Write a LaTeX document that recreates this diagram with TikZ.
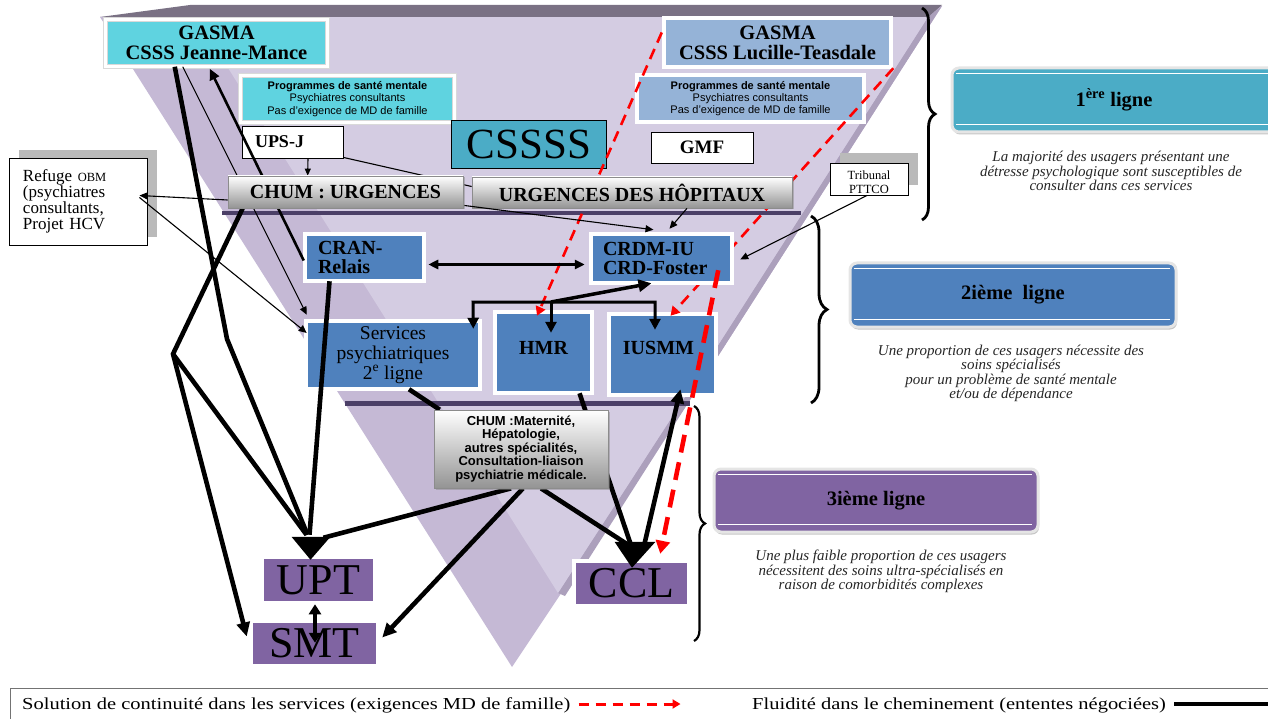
\documentclass[tikz,border=0pt]{standalone}
\usepackage{fontspec}
\setmainfont{Liberation Serif}
\newfontfamily\arial{Liberation Sans}
\newfontfamily\legfont[FakeStretch=1.22]{Liberation Serif}
\usetikzlibrary{arrows.meta,calc,shadows,decorations.pathreplacing}
\definecolor{cyanbox}{HTML}{5FD3E0}
\definecolor{ltblue}{HTML}{95B3D7}
\definecolor{tealbox}{HTML}{4BACC6}
\definecolor{midblue}{HTML}{4F81BD}
\definecolor{purp}{HTML}{8064A2}
\definecolor{lavL}{HTML}{D4CCE2}
\definecolor{lavM}{HTML}{C5B9D5}
\definecolor{lavB}{HTML}{ACA0BC}
\definecolor{topbar}{HTML}{7A7184}
\definecolor{shelfc}{HTML}{4B3F67}
\definecolor{brsh}{HTML}{C9A68C}
\pgfdeclarelayer{boxtop}
\pgfdeclarelayer{front}
\pgfsetlayers{main,boxtop,front}
\begin{document}
\begin{tikzpicture}[x=1pt,y=-1pt,
  fb/.style={fill=#1, draw=black!15, double=white, double distance=3.4pt, line width=0.5pt, inner sep=1pt},
  shg/.style={drop shadow={shadow xshift=1.5pt, shadow yshift=-1.5pt, fill=black!45, opacity=0.5}},
  shb/.style={drop shadow={shadow xshift=2pt, shadow yshift=-2pt, fill=brsh, opacity=0.9}},
  wb/.style={fill=white, draw=black, line width=0.9pt},
  gb/.style={top color=white, bottom color=black!42, draw=black!45, line width=0.7pt, shg},
  lb/.style={fill=#1, draw=black!10, line width=3pt, rounded corners=7pt, font=\bfseries\fontsize{20.5}{20}\selectfont, drop shadow={shadow xshift=1pt, shadow yshift=-2.5pt, fill=black!45, opacity=0.5}},
  bt/.style={font=\bfseries\fontsize{20.5}{20}\selectfont, align=center},
  prog/.style={font=\fontsize{11}{12.3}\selectfont\arial, align=center},
  bigtxt/.style={font=\fontsize{44}{44}\selectfont, inner sep=0pt},
  desc/.style={font=\itshape\fontsize{15}{14.5}\selectfont, align=center, text=black!85},
  ln1/.style={line width=1.1pt},
  ln2/.style={line width=2.6pt},
  ln3/.style={line width=4.6pt},
  ta/.style={-{Triangle[length=8pt,width=7pt]}},
  tb/.style={-{Triangle[length=11pt,width=10pt]}},
  tc/.style={-{Triangle[length=14pt,width=13pt]}},
  rdt/.style={draw=red, line width=2.6pt, dash pattern=on 11pt off 7pt, -{Triangle[length=9pt,width=10pt]}},
  rdT/.style={draw=red, line width=4.6pt, dash pattern=on 18pt off 10pt, -{Triangle[length=13pt,width=14pt]}}
]
\useasboundingbox (0,0) rectangle (1268,719);

% background funnel
\fill[lavM] (100,17) -- (942,6) -- (690,400) -- (512,667) -- cycle;
\fill[lavB] (928,17) -- (942,6) -- (690,400) -- (565,596) -- (558,593) -- (683,400) -- cycle;
\fill[lavL] (196,17) -- (928,17) -- (683,400) -- (558,593) -- cycle;
\fill[topbar] (100,17) -- (190,5) -- (942,5) -- (928,17) -- cycle;
\draw[shelfc, line width=4pt] (222,213) -- (801,213);
\draw[shelfc, line width=5pt] (345,403) -- (690,403);

% boxes drawn above the connectors that pass behind them
\begin{pgfonlayer}{boxtop}
\node[gb, minimum width=235pt, minimum height=32pt, font=\bfseries\fontsize{20}{20}\selectfont] (chumu) at (345.5,192) {CHUM : URGENCES};
\node[gb, minimum width=174pt, minimum height=78pt, font=\fontsize{13}{13.5}\selectfont\arial\bfseries, align=center] (chumm) at (521,449) {CHUM :Maternité,\\Hépatologie,\\autres spécialités,\\Consultation-liaison\\psychiatrie médicale.};
\end{pgfonlayer}

% boxes group 1
\node[fb=cyanbox, shb, bt, minimum width=222pt, minimum height=47pt] (gjm) at (216.5,43) {GASMA\\CSSS Jeanne-Mance};
\node[fb=cyanbox, shb, prog, minimum width=214pt, minimum height=47pt] (pjm) at (347.5,99) {\textbf{Programmes de santé mentale}\\Psychiatres consultants\\Pas d’exigence de MD de famille};
\node[wb, minimum width=101pt, minimum height=32pt, text width=75pt, align=left, font=\bfseries\fontsize{18}{18}\selectfont] (upsj) at (292.5,142) {UPS-J};
\node[draw=black, line width=0.9pt, fill=tealbox, minimum width=155pt, minimum height=48pt, font=\fontsize{43}{43}\selectfont, inner sep=0pt] (csssss) at (529,144.5) {CSSSS};
\node[fb=ltblue, shg, bt, minimum width=227pt, minimum height=49pt] (glt) at (777.5,42.5) {GASMA\\CSSS Lucille-Teasdale};
\node[fb=ltblue, shg, prog, minimum width=227pt, minimum height=47pt] (plt) at (750.5,98.5) {\textbf{Programmes de santé mentale}\\Psychiatres consultants\\Pas d’exigence de MD de famille};
\node[wb, minimum width=102pt, minimum height=31pt, font=\bfseries\fontsize{19}{19}\selectfont] (gmf) at (702,147.5) {GMF};
\node[wb, minimum width=138pt, minimum height=87pt, text width=110pt, align=left, font=\fontsize{17}{16}\selectfont, drop shadow={shadow xshift=10pt, shadow yshift=8pt, fill=black!27, opacity=1}] (refuge) at (78,201.5) {Refuge {\fontsize{12.5}{12}\selectfont OBM}\\(psychiatres\\consultants,\\Projet HCV};
\node[wb, minimum width=78pt, minimum height=32pt, drop shadow={shadow xshift=10pt, shadow yshift=10pt, fill=black!27, opacity=1}] (trib) at (869,179) {};
\begin{scope}
\clip (trib.south west) rectangle (trib.north east);
\node[font=\fontsize{12.5}{14.5}\selectfont, align=center, anchor=north, inner sep=0pt] (tribt) at ($(trib.north)+(0,8)$) {Tribunal\\PTTCO};
\end{scope}
\node[fb=midblue, shg, minimum width=119pt, minimum height=47pt, text width=93pt, align=left, font=\bfseries\fontsize{20}{19.5}\selectfont] (cran) at (364.5,257.5) {CRAN-\\Relais};
\node[fb=midblue, shg, minimum width=174pt, minimum height=68pt, align=center, font=\fontsize{19.5}{20}\selectfont] (serv) at (393,355) {Services\\psychiatriques\\2\textsuperscript{e} ligne};
\node[fb=midblue, shg, minimum width=97pt, minimum height=81pt, font=\bfseries\fontsize{20}{20}\selectfont] (hmr) at (543.5,352.5) {\raisebox{5pt}[\height][\depth]{HMR}};
\node[fb=midblue, shg, minimum width=107pt, minimum height=81pt, font=\bfseries\fontsize{20}{20}\selectfont] (iusmm) at (662.5,354.5) {\raisebox{7pt}[\height][\depth]{IUSMM}\kern8pt};
\node[fb=purp, shg, bigtxt, minimum width=113pt, minimum height=46pt] (upt) at (318.5,580) {UPT};
\node[fb=purp, shg, bigtxt, minimum width=127pt, minimum height=45pt] (smt) at (314.5,643.5) {SMT};
\node[fb=purp, shg, bigtxt, minimum width=115pt, minimum height=45pt] (ccl) at (631.5,583.5) {CCL};

% right side legend boxes
\node[lb=tealbox, minimum width=324pt, minimum height=64pt] (l1) at (1114,100) {1\textsuperscript{ère} ligne};
\node[lb=midblue, minimum width=326pt, minimum height=64pt] (l2) at (1013,295) {2ième\enspace ligne};
\node[lb=purp, minimum width=324pt, minimum height=63pt] (l3) at (876,500.5) {3ième ligne};
\foreach \n in {l1,l2,l3}{
  \draw[white, line width=1.6pt] ($(\n.north west)+(5,7)$) -- ($(\n.north east)+(-8,7)$);
  \draw[white, line width=1.6pt] ($(\n.south west)+(5,-9)$) -- ($(\n.south east)+(-8,-9)$);
}
\node[desc] (d1) at (1111,171) {La majorité des usagers présentant une\\détresse psychologique sont susceptibles de\\consulter dans ces services};
\node[desc] (d2) at (1011,373.5) {Une proportion de ces usagers nécessite des\\soins spécialisés\\pour un problème de santé mentale\\et/ou de dépendance};
\node[desc] (d3) at (881,571.5) {Une plus faible proportion de ces usagers\\nécessitent des soins ultra-spécialisés en\\raison de comorbidités complexes};
\draw[decorate, decoration={brace, amplitude=13pt}, line width=2.8pt] (922,8) -- (922,220);
\draw[decorate, decoration={brace, amplitude=16pt}, line width=2.8pt] (811,216) -- (811,403);
\draw[decorate, decoration={brace, amplitude=11pt}, line width=2.2pt] (694,406) -- (694,641);

% thin red dashed (behind group 2)
\draw[rdt] ($(glt.west)+(-2,-10)$) -- ($(hmr.north)+(-6.5,4)$);
\draw[rdt] ($(glt.south east)+(2,1)$) -- ($(iusmm.north)+(8,2)$);

% boxes group 2
\node[gb, minimum width=320pt, minimum height=31pt, font=\bfseries\fontsize{20}{20}\selectfont] (urgh) at (632,192.5) {URGENCES DES HÔPITAUX};
\node[fb=midblue, shg, minimum width=141pt, minimum height=49pt, text width=117pt, align=left, font=\bfseries\fontsize{20}{19.5}\selectfont] (crdm) at (661.5,258.5) {CRDM-IU\\CRD-Foster};

% black connectors
\coordinate (J1) at (227,339);
\coordinate (K) at (173,354);
\draw[ln1, ta] ($(gjm.south west)+(77.5,0)$) -- ($(serv.north west)+(1,-6)$);
\draw[ln2, tb] ($(cran.west)+(-1,3)$) -- ($(gjm.south west)+(104.5,2)$);
\draw[ln1, ta] ($(chumu.west)+(0,8)$) -- ($(refuge.east)+(-8,-6)$);
\draw[ln1, ta] ($(refuge.east)+(-8,-4)$) -- ($(serv.west)+(1,-22)$);
\draw[ln1, -{Triangle[length=7pt,width=6pt]}] ($(upsj.south)+(15.5,0)$) -- ($(chumu.north west)+(80,0)$);
\draw[ln1] ($(upsj.south east)+(0,-1)$) -- ($(urgh.west)+(0,-6)$);
\draw[ln1, ta] ($(chumu.south east)+(0,-3)$) -- ($(crdm.north)+(-8,-4)$);
\draw[ln1, ta] ($(urgh.south)+(55,0)$) -- ($(crdm.north)+(8,-5)$);
\draw[ln1, ta] ($(trib.south)+(-2,0)$) -- ($(crdm.east)+(8,1)$);
\draw[ln2, {Triangle[length=10pt,width=9pt]}-{Triangle[length=10pt,width=9pt]}] ($(cran.east)+(4,7)$) -- ($(crdm.west)+(-6,6)$);
\draw[ln3] ($(gjm.south west)+(69.5,0)$) -- (J1) -- ($(upt.north)+(-11,-22)$);
\draw[ln3, tc] ($(chumu.south west)+(15,0)$) -- (K) -- ($(smt.west)+(-4,-7)$);
\draw[ln3] (K) -- ($(upt.north)+(-12,-22)$);
\draw[ln3] ($(cran.south)+(-35,0)$) -- ($(upt.north)+(-9,-22)$);
\draw[ln3] ($(hmr.south)+(36,0)$) -- ($(ccl.north)+(-1,-17)$);
\draw[ln3] ($(chumm.south)+(-10,0)$) -- ($(upt.north)+(5,-19)$);
\draw[ln3, tc] ($(chumm.south)+(2,0)$) -- ($(smt.east)+(4,-6)$);
\draw[ln3] ($(chumm.south)+(20,0)$) -- ($(ccl.north)+(-5,-17)$);
\draw[ln3] ($(serv.south)+(16,0)$) -- ($(chumm.north west)+(6,0)$);

% overlays
\begin{pgfonlayer}{front}
\coordinate (B1) at (473,302);
\coordinate (B3) at (551,302);
\coordinate (B2) at (655,302);
\draw[line width=3pt, {Triangle[length=11pt,width=11pt]}-{Triangle[length=11pt,width=11pt]}] ($(serv.north east)+(-7,8)$) -- (B1) -- (B2) -- ($(iusmm.north)+(-7.5,16)$);
\draw[line width=3pt, -{Triangle[length=11pt,width=11pt]}] (B3) -- ($(hmr.north)+(7.5,21)$);
\draw[line width=3.5pt, -{Triangle[length=13pt,width=12pt]}] (B3) -- ($(crdm.south)+(-10,0)$);
\draw[ln3, tc] ($(ccl.north)+(13,-17)$) -- ($(iusmm.south)+(18,-6)$);
\draw[line width=3.5pt, {Triangle[length=10pt,width=12pt]}-{Triangle[length=10pt,width=12pt]}] ($(upt.south)+(-3.5,1)$) -- ($(smt.north)+(0.5,22)$);
\fill ($(upt.north)+(-27,-20)$) -- ($(upt.north)+(12,-20)$) -- ($(upt.north)+(-8,3)$) -- cycle;
\fill ($(ccl.north)+(-17,-19)$) -- ($(ccl.north)+(24,-19)$) -- ($(ccl.north)+(0.5,7)$) -- cycle;
\draw[rdT] ($(crdm.south east)+(-14,-13)$) -- ($(ccl.north east)+(-29,-7)$);
\end{pgfonlayer}

% legend
\draw[black!55, line width=0.8pt] (10,721) -- (10,688) -- (1270,688);
\node[anchor=west, inner sep=0pt, font=\fontsize{16.8}{16.8}\legfont] (lg1) at (22,705) {Solution de continuité dans les services (exigences MD de famille)};
\coordinate (lr1) at ($(lg1.east)+(8,-1)$);
\coordinate (lr2) at ($(lr1)+(102,0)$);
\draw[draw=red, line width=3pt, dash pattern=on 10pt off 7pt, -{Triangle[length=8pt,width=9pt]}] (lr1) -- (lr2);
\node[anchor=west, inner sep=0pt, font=\fontsize{16.8}{16.8}\legfont] (lg2) at (752,705) {Fluidité dans le cheminement (ententes négociées)};
\coordinate (lb1) at ($(lg2.east)+(8,-1)$);
\coordinate (lb2) at (1272,704);
\draw[line width=3.8pt] (lb1) -- (lb2);
\end{tikzpicture}
\end{document}
